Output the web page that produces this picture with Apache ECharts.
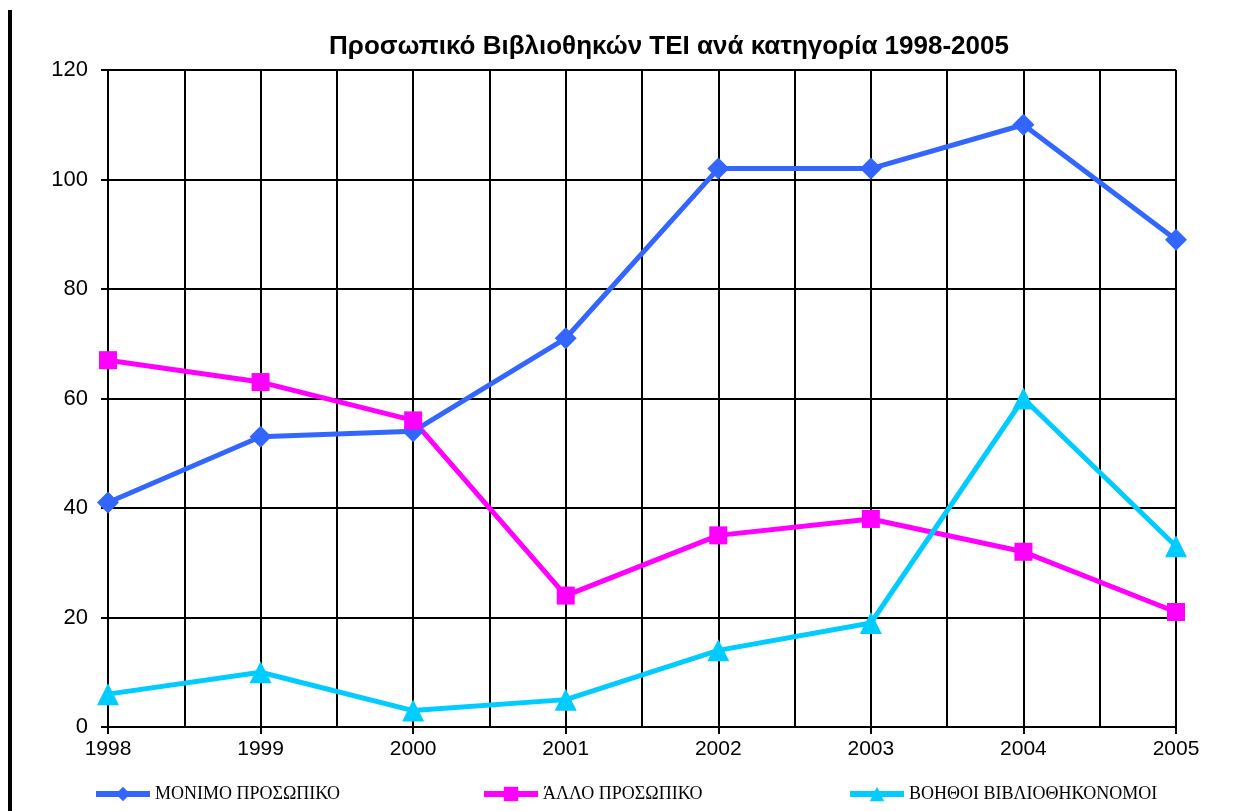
<!DOCTYPE html>
<html>
<head>
<meta charset="utf-8">
<script src="https://cdn.jsdelivr.net/npm/echarts@6/dist/echarts.min.js"></script>
<style>
  html, body { margin: 0; padding: 0; background: #fff; }
  #main { width: 1241px; height: 811px; }
</style>
</head>
<body>
<div id="main"></div>
<script>
// data
const years = [1998, 1999, 2000, 2001, 2002, 2003, 2004, 2005];
const monimo = [41, 53, 54, 71, 102, 102, 110, 89];
const allo = [67, 63, 56, 24, 35, 38, 32, 21];
const vohthoi = [6, 10, 3, 5, 14, 19, 60, 33];
const seriesNames = ['ΜΟΝΙΜΟ ΠΡΟΣΩΠΙΚΟ', 'ΆΛΛΟ ΠΡΟΣΩΠΙΚΟ', 'ΒΟΗΘΟΙ ΒΙΒΛΙΟΘΗΚΟΝΟΜΟΙ'];
const yTicks = [0, 20, 40, 60, 80, 100, 120];

const pairs = function (vals) {
  return years.map((y, i) => [y, vals[i]]);
};

const chart = echarts.init(document.getElementById('main'));

// one legend per series so each can sit where the original puts it
const legendAt = [88, 476, 842];
const legends = seriesNames.map((name, i) => ({
  data: [name],
  left: legendAt[i],
  top: 780,
  itemWidth: 54,
  itemHeight: 18,
  lineStyle: { width: 6 },
  textStyle: { fontFamily: 'Liberation Serif', fontSize: 18, color: '#000' }
}));

const lineSeries = function (name, vals, color, symbol, size) {
  return {
    name: name,
    type: 'line',
    data: pairs(vals),
    symbol: symbol,
    symbolSize: size,
    lineStyle: { color: color, width: 5 },
    itemStyle: { color: color },
    animation: false
  };
};

chart.setOption({
  backgroundColor: '#fff',
  title: {
    text: 'Προσωπικό Βιβλιοθηκών ΤΕΙ ανά κατηγορία 1998-2005',
    left: 664,
    top: 29,
    textAlign: 'center',
    textStyle: { fontFamily: 'Liberation Sans', fontWeight: 'bold', fontSize: 26, color: '#000' }
  },
  legend: legends,
  grid: { left: 108, right: 65, top: 70, bottom: 84 },
  xAxis: {
    type: 'value',
    min: 1998,
    max: 2005,
    interval: 1,
    axisLine: { lineStyle: { color: '#000', width: 2 } },
    axisTick: { show: true, length: 7, lineStyle: { color: '#000', width: 2 } },
    axisLabel: {
      margin: 12, fontFamily: 'Liberation Sans', fontSize: 21, color: '#000',
      formatter: v => String(v)
    },
    splitLine: { show: true, lineStyle: { color: '#000', width: 2 } },
    minorTick: { show: false, splitNumber: 2 },
    minorSplitLine: { show: true, lineStyle: { color: '#000', width: 2 } }
  },
  yAxis: {
    type: 'value',
    min: yTicks[0],
    max: yTicks[yTicks.length - 1],
    interval: 20,
    axisLine: { show: true, lineStyle: { color: '#000', width: 2 } },
    axisTick: { show: true, length: 7, lineStyle: { color: '#000', width: 2 } },
    axisLabel: { margin: 20, fontFamily: 'Liberation Sans', fontSize: 22, color: '#000' },
    splitLine: { show: true, lineStyle: { color: '#000', width: 2 } }
  },
  graphic: [
    { type: 'rect', shape: { x: 8, y: 10, width: 4, height: 801 }, style: { fill: '#000' } }
  ],
  series: [
    lineSeries(seriesNames[0], monimo, '#3366FF', 'diamond', 22),
    lineSeries(seriesNames[1], allo, '#FF00FF', 'rect', 18),
    lineSeries(seriesNames[2], vohthoi, '#00CCFF', 'triangle', 22)
  ]
});
</script>
</body>
</html>
